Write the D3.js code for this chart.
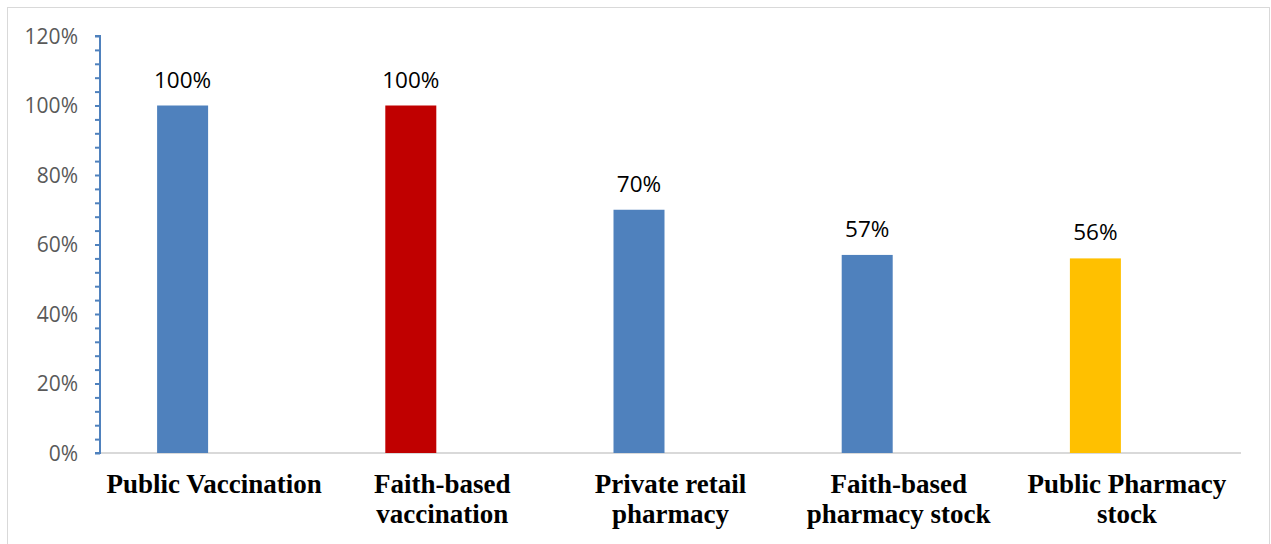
<!DOCTYPE html>
<html>
<head>
<meta charset="utf-8">
<script src="https://cdn.jsdelivr.net/npm/d3@7"></script>
<style>
  html, body { margin: 0; padding: 0; background: #fff; }
  svg { display: block; }
</style>
</head>
<body>
<svg id="chart" width="1271" height="544"></svg>
<script>
// Share of outlets, by type
const categories = [
  ["Public Vaccination"],
  ["Faith-based", "vaccination"],
  ["Private retail", "pharmacy"],
  ["Faith-based", "pharmacy stock"],
  ["Public Pharmacy", "stock"]
];
const values = [100, 100, 70, 57, 56];
const barColors = ["#4F81BD", "#C00000", "#4F81BD", "#4F81BD", "#FFC000"];
const yTicks = [0, 20, 40, 60, 80, 100, 120];

const svg = d3.select("#chart");
const plotLeft = 100, plotRight = 1241, plotTop = 36, plotBottom = 453;
const barWidth = 51, barShift = -31.5; // bar sits left of the category centre

// chart frame
svg.append("rect")
  .attr("x", 7.5).attr("y", 7.5)
  .attr("width", 1262).attr("height", 560)
  .attr("fill", "#fff").attr("stroke", "#d9d9d9").attr("stroke-width", 1);

const x = d3.scaleBand()
  .domain(d3.range(categories.length))
  .range([plotLeft, plotRight])
  .padding(0);
const cx = i => x(i) + x.bandwidth() / 2;

const y = d3.scaleLinear().domain([0, 120]).range([plotBottom, plotTop]);

// category baseline
svg.append("line")
  .attr("x1", plotLeft).attr("x2", plotRight)
  .attr("y1", y(0)).attr("y2", y(0))
  .attr("stroke", "#d9d9d9").attr("stroke-width", 2);

// bars
svg.append("g").selectAll("rect")
  .data(values)
  .join("rect")
  .attr("x", (d, i) => cx(i) + barShift - barWidth / 2)
  .attr("width", barWidth)
  .attr("y", d => y(d))
  .attr("height", d => y(0) - y(d))
  .attr("fill", (d, i) => barColors[i]);

// value labels
svg.append("g").selectAll("text")
  .data(values)
  .join("text")
  .attr("x", (d, i) => cx(i) + barShift)
  .attr("y", d => y(d) - 18)
  .attr("text-anchor", "middle")
  .attr("font-family", "'Open Sans', sans-serif")
  .attr("font-size", 22.5)
  .attr("fill", "#000")
  .text(d => d + "%");

// y axis: minor ticks every 4%, labelled ticks every 20%
const yAxis = svg.append("g").attr("transform", `translate(${plotLeft},0)`);
yAxis.call(d3.axisLeft(y).tickValues(d3.range(0, 121, 4)).tickSize(5).tickFormat(""));
yAxis.select(".domain").attr("stroke", "#4F81BD").attr("stroke-width", 2)
  .attr("d", `M-5,${y(120)}H0V${y(0)}H-5`);
yAxis.selectAll(".tick line").attr("stroke", "#4F81BD").attr("stroke-width", 2);

svg.append("g").selectAll("text")
  .data(yTicks)
  .join("text")
  .attr("x", 78)
  .attr("y", d => y(d))
  .attr("dy", "0.36em")
  .attr("text-anchor", "end")
  .attr("font-family", "'Open Sans', sans-serif")
  .attr("font-size", 21)
  .attr("fill", "#595959")
  .text(d => d + "%");

// category labels
const catG = svg.append("g").selectAll("text")
  .data(categories)
  .join("text")
  .attr("x", (d, i) => cx(i))
  .attr("y", 493)
  .attr("text-anchor", "middle")
  .attr("font-family", "'Liberation Serif', 'Times New Roman', serif")
  .attr("font-weight", "bold")
  .attr("font-size", 27)
  .attr("fill", "#000");
catG.selectAll("tspan")
  .data(d => d)
  .join("tspan")
  .attr("x", function () { return d3.select(this.parentNode).attr("x"); })
  .attr("dy", (d, i) => i === 0 ? 0 : 30)
  .text(d => d);
</script>
</body>
</html>
